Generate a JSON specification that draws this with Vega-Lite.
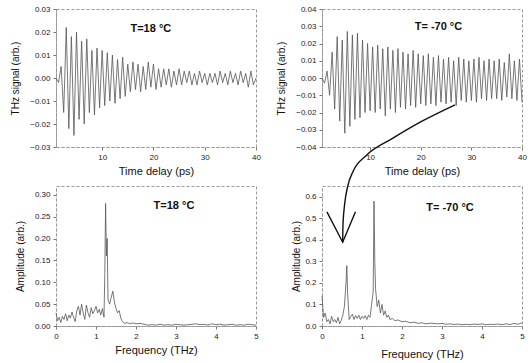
{
 "$schema": "https://vega.github.io/schema/vega-lite/v6.json",
 "padding": {"left": 9, "top": 4, "right": 0, "bottom": 0},
 "config": {
  "font": "Liberation Sans",
  "view": {"stroke": "#999", "strokeDash": [3, 2], "strokeWidth": 1},
  "axis": {"grid": false, "labelOverlap": false, "labelFlush": false, "domainColor": "#999", "domainDash": [3, 2], "tickColor": "#777", "tickSize": 3, "labelFontSize": 8, "labelColor": "#222", "labelPadding": 3, "titleFontSize": 11, "titleColor": "#111", "titleFontWeight": "normal"},
  "axisY": {"titleFontSize": 10}
 },
 "columns": 2,
 "spacing": {"row": 39, "column": 66},
 "bounds": "flush",
 "concat": [
  {
   "width": 200, "height": 138,
   "data": {"values": [
    {"t":1.0,"v":0.000},{"t":1.5,"v":-0.002},{"t":2.0,"v":0.005},{"t":2.5,"v":-0.015},{"t":3.0,"v":0.022},{"t":3.5,"v":-0.022},{"t":4.0,"v":0.018},{"t":4.5,"v":-0.025},{"t":5.0,"v":0.020},{"t":5.5,"v":-0.018},
    {"t":6.0,"v":0.016},{"t":6.5,"v":-0.020},{"t":7.0,"v":0.017},{"t":7.5,"v":-0.015},{"t":8.0,"v":0.012},{"t":8.5,"v":-0.016},{"t":9.0,"v":0.013},{"t":9.5,"v":-0.013},{"t":10.0,"v":0.012},{"t":10.5,"v":-0.012},
    {"t":11.0,"v":0.011},{"t":11.5,"v":-0.010},{"t":12.0,"v":0.010},{"t":12.5,"v":-0.011},{"t":13.0,"v":0.008},{"t":13.5,"v":-0.009},{"t":14.0,"v":0.009},{"t":14.5,"v":-0.008},{"t":15.0,"v":0.006},{"t":15.5,"v":-0.006},
    {"t":16.0,"v":0.007},{"t":16.5,"v":-0.005},{"t":17.0,"v":0.006},{"t":17.5,"v":-0.006},{"t":18.0,"v":0.005},{"t":18.5,"v":-0.005},{"t":19.0,"v":0.007},{"t":19.5,"v":-0.004},{"t":20.0,"v":0.006},{"t":20.5,"v":-0.005},
    {"t":21.0,"v":0.004},{"t":21.5,"v":-0.004},{"t":22.0,"v":0.004},{"t":22.5,"v":-0.003},{"t":23.0,"v":0.004},{"t":23.5,"v":-0.004},{"t":24.0,"v":0.003},{"t":24.5,"v":-0.003},{"t":25.0,"v":0.004},{"t":25.5,"v":-0.003},
    {"t":26.0,"v":0.003},{"t":26.5,"v":-0.002},{"t":27.0,"v":0.003},{"t":27.5,"v":-0.003},{"t":28.0,"v":0.002},{"t":28.5,"v":-0.003},{"t":29.0,"v":0.003},{"t":29.5,"v":-0.002},{"t":30.0,"v":0.002},{"t":30.5,"v":-0.003},
    {"t":31.0,"v":0.002},{"t":31.5,"v":-0.002},{"t":32.0,"v":0.002},{"t":32.5,"v":-0.003},{"t":33.0,"v":0.003},{"t":33.5,"v":-0.002},{"t":34.0,"v":0.002},{"t":34.5,"v":-0.003},{"t":35.0,"v":0.003},{"t":35.5,"v":-0.002},
    {"t":36.0,"v":0.002},{"t":36.5,"v":-0.003},{"t":37.0,"v":0.003},{"t":37.5,"v":-0.002},{"t":38.0,"v":0.002},{"t":38.5,"v":-0.004},{"t":39.0,"v":0.003},{"t":39.5,"v":-0.003},{"t":40.0,"v":0.000}
   ]},
   "layer": [
    {"mark": {"type": "line", "stroke": "#555", "strokeWidth": 0.8},
     "encoding": {
      "x": {"field": "t", "type": "quantitative", "scale": {"domain": [1, 40], "nice": false}, "axis": {"values": [10, 20, 30, 40], "tickCount": 20, "format": "d", "title": "Time delay (ps)"}},
      "y": {"field": "v", "type": "quantitative", "scale": {"domain": [-0.03, 0.03], "nice": false}, "axis": {"values": [-0.03, -0.02, -0.01, 0, 0.01, 0.02, 0.03], "tickCount": 20, "format": ".2f", "title": "THz signal (arb.)", "minExtent": 24, "maxExtent": 24, "titlePadding": 12}}
     }},
    {"data": {"values": [{"label": "T=18 °C", "t": 19.5, "v": 0.0215}]},
     "mark": {"type": "text", "fontSize": 11, "fontWeight": "bold", "color": "#111"},
     "encoding": {"x": {"field": "t", "type": "quantitative"}, "y": {"field": "v", "type": "quantitative"}, "text": {"field": "label"}}}
   ]
  },
  {
   "width": 200, "height": 138,
   "data": {"values": [
    {"t":0.5,"v":0.000},{"t":1.0,"v":-0.003},{"t":1.5,"v":0.004},{"t":2.0,"v":-0.010},{"t":2.5,"v":0.015},{"t":3.0,"v":-0.018},{"t":3.5,"v":0.024},{"t":4.0,"v":-0.025},{"t":4.5,"v":0.022},{"t":5.0,"v":-0.032},
    {"t":5.5,"v":0.027},{"t":6.0,"v":-0.028},{"t":6.5,"v":0.025},{"t":7.0,"v":-0.024},{"t":7.5,"v":0.026},{"t":8.0,"v":-0.023},{"t":8.5,"v":0.022},{"t":9.0,"v":-0.020},{"t":9.5,"v":0.020},{"t":10.0,"v":-0.019},
    {"t":10.5,"v":0.018},{"t":11.0,"v":-0.020},{"t":11.5,"v":0.019},{"t":12.0,"v":-0.018},{"t":12.5,"v":0.017},{"t":13.0,"v":-0.022},{"t":13.5,"v":0.018},{"t":14.0,"v":-0.018},{"t":14.5,"v":0.016},{"t":15.0,"v":-0.020},
    {"t":15.5,"v":0.017},{"t":16.0,"v":-0.017},{"t":16.5,"v":0.015},{"t":17.0,"v":-0.018},{"t":17.5,"v":0.014},{"t":18.0,"v":-0.016},{"t":18.5,"v":0.016},{"t":19.0,"v":-0.017},{"t":19.5,"v":0.014},{"t":20.0,"v":-0.015},
    {"t":20.5,"v":0.013},{"t":21.0,"v":-0.016},{"t":21.5,"v":0.014},{"t":22.0,"v":-0.015},{"t":22.5,"v":0.012},{"t":23.0,"v":-0.016},{"t":23.5,"v":0.013},{"t":24.0,"v":-0.014},{"t":24.5,"v":0.011},{"t":25.0,"v":-0.015},
    {"t":25.5,"v":0.012},{"t":26.0,"v":-0.014},{"t":26.5,"v":0.010},{"t":27.0,"v":-0.016},{"t":27.5,"v":0.012},{"t":28.0,"v":-0.013},{"t":28.5,"v":0.011},{"t":29.0,"v":-0.014},{"t":29.5,"v":0.010},{"t":30.0,"v":-0.013},
    {"t":30.5,"v":0.011},{"t":31.0,"v":-0.014},{"t":31.5,"v":0.012},{"t":32.0,"v":-0.012},{"t":32.5,"v":0.010},{"t":33.0,"v":-0.013},{"t":33.5,"v":0.011},{"t":34.0,"v":-0.012},{"t":34.5,"v":0.010},{"t":35.0,"v":-0.012},
    {"t":35.5,"v":0.011},{"t":36.0,"v":-0.013},{"t":36.5,"v":0.009},{"t":37.0,"v":-0.011},{"t":37.5,"v":0.014},{"t":38.0,"v":-0.012},{"t":38.5,"v":0.010},{"t":39.0,"v":-0.013},{"t":39.5,"v":0.011},{"t":40.0,"v":-0.014}
   ]},
   "layer": [
    {"mark": {"type": "line", "stroke": "#555", "strokeWidth": 0.8},
     "encoding": {
      "x": {"field": "t", "type": "quantitative", "scale": {"domain": [0.5, 40], "nice": false}, "axis": {"values": [10, 20, 30, 40], "tickCount": 20, "format": "d", "title": "Time delay (ps)"}},
      "y": {"field": "v", "type": "quantitative", "scale": {"domain": [-0.04, 0.04], "nice": false}, "axis": {"values": [-0.04, -0.03, -0.02, -0.01, 0, 0.01, 0.02, 0.03, 0.04], "tickCount": 20, "format": ".2f", "title": "THz signal (arb.)", "minExtent": 24, "maxExtent": 24, "titlePadding": 12}}
     }},
    {"data": {"values": [{"label": "T= -70 °C", "t": 23.5, "v": 0.0294}]},
     "mark": {"type": "text", "fontSize": 11, "fontWeight": "bold", "color": "#111"},
     "encoding": {"x": {"field": "t", "type": "quantitative"}, "y": {"field": "v", "type": "quantitative"}, "text": {"field": "label"}}}
   ]
  },
  {
   "width": 200, "height": 140,
   "data": {"values": [
    {"f":0.00,"a":0.030},{"f":0.04,"a":0.012},{"f":0.08,"a":0.020},{"f":0.12,"a":0.008},{"f":0.16,"a":0.022},{"f":0.20,"a":0.015},{"f":0.24,"a":0.028},{"f":0.28,"a":0.012},{"f":0.32,"a":0.025},{"f":0.36,"a":0.018},
    {"f":0.40,"a":0.032},{"f":0.44,"a":0.020},{"f":0.48,"a":0.010},{"f":0.52,"a":0.035},{"f":0.56,"a":0.045},{"f":0.60,"a":0.025},{"f":0.64,"a":0.050},{"f":0.68,"a":0.030},{"f":0.72,"a":0.015},{"f":0.76,"a":0.048},
    {"f":0.80,"a":0.030},{"f":0.84,"a":0.020},{"f":0.88,"a":0.042},{"f":0.92,"a":0.028},{"f":0.96,"a":0.035},{"f":1.00,"a":0.045},{"f":1.04,"a":0.030},{"f":1.08,"a":0.038},{"f":1.12,"a":0.025},{"f":1.16,"a":0.040},
    {"f":1.20,"a":0.020},{"f":1.22,"a":0.120},{"f":1.24,"a":0.280},{"f":1.26,"a":0.160},{"f":1.28,"a":0.200},{"f":1.30,"a":0.060},{"f":1.34,"a":0.050},{"f":1.38,"a":0.065},{"f":1.42,"a":0.080},{"f":1.46,"a":0.055},
    {"f":1.50,"a":0.040},{"f":1.54,"a":0.030},{"f":1.58,"a":0.035},{"f":1.62,"a":0.018},{"f":1.66,"a":0.010},{"f":1.72,"a":0.006},{"f":1.78,"a":0.008},{"f":1.84,"a":0.005},{"f":1.92,"a":0.007},{"f":2.00,"a":0.005},
    {"f":2.10,"a":0.006},{"f":2.20,"a":0.004},{"f":2.30,"a":0.002},{"f":2.40,"a":0.003},{"f":2.50,"a":0.002},{"f":2.60,"a":0.004},{"f":2.70,"a":0.002},{"f":2.80,"a":0.003},{"f":2.90,"a":0.002},{"f":3.00,"a":0.004},
    {"f":3.10,"a":0.003},{"f":3.20,"a":0.002},{"f":3.30,"a":0.003},{"f":3.40,"a":0.004},{"f":3.50,"a":0.005},{"f":3.60,"a":0.003},{"f":3.70,"a":0.004},{"f":3.80,"a":0.002},{"f":3.90,"a":0.005},{"f":4.00,"a":0.003},
    {"f":4.10,"a":0.004},{"f":4.20,"a":0.002},{"f":4.30,"a":0.003},{"f":4.40,"a":0.004},{"f":4.50,"a":0.002},{"f":4.60,"a":0.003},{"f":4.70,"a":0.002},{"f":4.80,"a":0.004},{"f":4.90,"a":0.003},{"f":5.00,"a":0.002}
   ]},
   "layer": [
    {"mark": {"type": "line", "stroke": "#555", "strokeWidth": 0.8},
     "encoding": {
      "x": {"field": "f", "type": "quantitative", "scale": {"domain": [0, 5], "nice": false}, "axis": {"values": [0, 1, 2, 3, 4, 5], "tickCount": 20, "format": "d", "title": "Frequency (THz)"}},
      "y": {"field": "a", "type": "quantitative", "scale": {"domain": [0, 0.32], "nice": false}, "axis": {"values": [0, 0.05, 0.1, 0.15, 0.2, 0.25, 0.3], "tickCount": 20, "format": ".2f", "title": "Amplitude (arb.)", "minExtent": 24, "maxExtent": 24, "titlePadding": 7}}
     }},
    {"data": {"values": [{"label": "T=18 °C", "f": 2.95, "a": 0.275}]},
     "mark": {"type": "text", "fontSize": 11, "fontWeight": "bold", "color": "#111"},
     "encoding": {"x": {"field": "f", "type": "quantitative"}, "y": {"field": "a", "type": "quantitative"}, "text": {"field": "label"}}}
   ]
  },
  {
   "width": 200, "height": 140,
   "data": {"values": [
    {"f":0.00,"a":0.140},{"f":0.04,"a":0.040},{"f":0.08,"a":0.060},{"f":0.12,"a":0.020},{"f":0.16,"a":0.030},{"f":0.20,"a":0.010},{"f":0.24,"a":0.045},{"f":0.28,"a":0.020},{"f":0.32,"a":0.030},{"f":0.36,"a":0.015},
    {"f":0.40,"a":0.040},{"f":0.44,"a":0.010},{"f":0.48,"a":0.025},{"f":0.52,"a":0.050},{"f":0.56,"a":0.090},{"f":0.60,"a":0.200},{"f":0.62,"a":0.280},{"f":0.64,"a":0.150},{"f":0.68,"a":0.030},{"f":0.72,"a":0.045},
    {"f":0.76,"a":0.055},{"f":0.80,"a":0.030},{"f":0.84,"a":0.048},{"f":0.88,"a":0.035},{"f":0.92,"a":0.050},{"f":0.96,"a":0.030},{"f":1.00,"a":0.045},{"f":1.04,"a":0.035},{"f":1.08,"a":0.048},{"f":1.12,"a":0.030},
    {"f":1.16,"a":0.050},{"f":1.20,"a":0.040},{"f":1.24,"a":0.100},{"f":1.28,"a":0.160},{"f":1.30,"a":0.580},{"f":1.32,"a":0.300},{"f":1.34,"a":0.170},{"f":1.38,"a":0.090},{"f":1.42,"a":0.120},{"f":1.46,"a":0.060},
    {"f":1.50,"a":0.100},{"f":1.54,"a":0.050},{"f":1.58,"a":0.070},{"f":1.62,"a":0.040},{"f":1.66,"a":0.050},{"f":1.70,"a":0.030},{"f":1.76,"a":0.035},{"f":1.82,"a":0.025},{"f":1.90,"a":0.028},{"f":2.00,"a":0.020},
    {"f":2.10,"a":0.022},{"f":2.20,"a":0.015},{"f":2.30,"a":0.018},{"f":2.40,"a":0.012},{"f":2.50,"a":0.015},{"f":2.60,"a":0.010},{"f":2.70,"a":0.013},{"f":2.80,"a":0.012},{"f":2.90,"a":0.010},{"f":3.00,"a":0.012},
    {"f":3.10,"a":0.008},{"f":3.20,"a":0.010},{"f":3.30,"a":0.007},{"f":3.40,"a":0.009},{"f":3.50,"a":0.006},{"f":3.60,"a":0.008},{"f":3.70,"a":0.006},{"f":3.80,"a":0.009},{"f":3.90,"a":0.007},{"f":4.00,"a":0.010},
    {"f":4.10,"a":0.006},{"f":4.20,"a":0.008},{"f":4.30,"a":0.007},{"f":4.40,"a":0.009},{"f":4.50,"a":0.006},{"f":4.60,"a":0.010},{"f":4.70,"a":0.007},{"f":4.80,"a":0.012},{"f":4.90,"a":0.008},{"f":5.00,"a":0.015}
   ]},
   "layer": [
    {"mark": {"type": "line", "stroke": "#555", "strokeWidth": 0.8},
     "encoding": {
      "x": {"field": "f", "type": "quantitative", "scale": {"domain": [0, 5], "nice": false}, "axis": {"values": [0, 1, 2, 3, 4, 5], "tickCount": 20, "format": "d", "title": "Frequency (THz)", "titlePadding": 8}},
      "y": {"field": "a", "type": "quantitative", "scale": {"domain": [0, 0.65], "nice": false}, "axis": {"values": [0, 0.1, 0.2, 0.3, 0.4, 0.5, 0.6], "tickCount": 20, "format": ".1f", "title": "Amplitude (arb.)", "minExtent": 18, "maxExtent": 18, "titlePadding": 3}}
     }},
    {"data": {"values": [
      {"i":0,"f":3.325,"a":1.027},{"i":1,"f":2.512,"a":0.952},{"i":2,"f":1.773,"a":0.872},{"i":3,"f":1.108,"a":0.792},{"i":4,"f":0.788,"a":0.722},
      {"i":5,"f":0.640,"a":0.647},{"i":6,"f":0.567,"a":0.567},{"i":7,"f":0.525,"a":0.473},{"i":8,"f":0.517,"a":0.389}
     ]},
     "mark": {"type": "line", "stroke": "#111", "strokeWidth": 1.4, "interpolate": "monotone", "clip": false},
     "encoding": {"x": {"field": "f", "type": "quantitative", "scale": {"domain": [0, 5], "nice": false}}, "y": {"field": "a", "type": "quantitative", "scale": {"domain": [0, 0.65], "nice": false}}, "order": {"field": "i", "type": "quantitative"}}},
    {"data": {"values": [
      {"i":0,"f":0.123,"a":0.530},{"i":1,"f":0.517,"a":0.389},{"i":2,"f":0.837,"a":0.530}
     ]},
     "mark": {"type": "line", "stroke": "#111", "strokeWidth": 1.4, "clip": false},
     "encoding": {"x": {"field": "f", "type": "quantitative", "scale": {"domain": [0, 5], "nice": false}}, "y": {"field": "a", "type": "quantitative", "scale": {"domain": [0, 0.65], "nice": false}}, "order": {"field": "i", "type": "quantitative"}}},
    {"data": {"values": [{"label": "T= -70 °C", "f": 3.2, "a": 0.548}]},
     "mark": {"type": "text", "fontSize": 11, "fontWeight": "bold", "color": "#111"},
     "encoding": {"x": {"field": "f", "type": "quantitative"}, "y": {"field": "a", "type": "quantitative"}, "text": {"field": "label"}}}
   ]
  }
 ]
}
